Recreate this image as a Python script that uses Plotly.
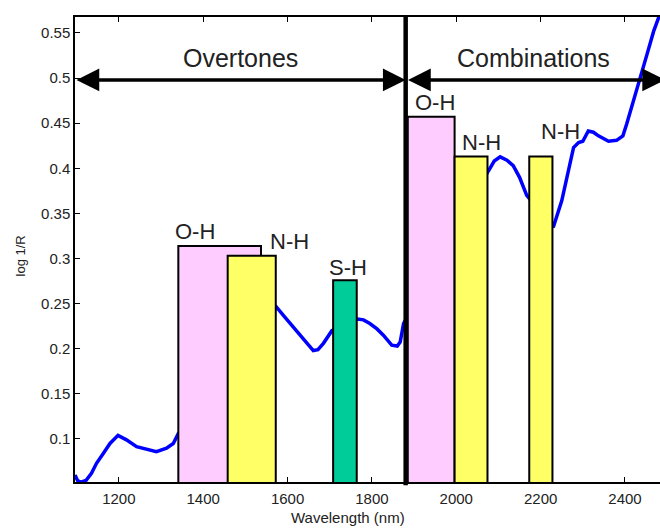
import plotly.graph_objects as go

# Spectrum (log 1/R vs wavelength) — visible portions
wavelength = [1096, 1102, 1110, 1122, 1135, 1147, 1163, 1179, 1198, 1218, 1242, 1266,
              1289, 1313, 1329, 1341,
              1574, 1590, 1613, 1640, 1661, 1672, 1685, 1705,
              1766, 1780, 1795, 1812, 1827, 1847, 1860, 1867, 1875,
              2076, 2090, 2104, 2120, 2135, 2150, 2167,
              2230, 2250, 2265, 2278, 2290, 2300, 2313, 2325, 2337, 2361, 2380, 2395,
              2404, 2420, 2436, 2452, 2468, 2479, 2490]
log_1_r = [0.060, 0.054, 0.052, 0.054, 0.062, 0.073, 0.084, 0.095, 0.104, 0.099, 0.0915, 0.0886,
           0.086, 0.0897, 0.095, 0.106,
           0.246, 0.237, 0.224, 0.210, 0.198, 0.199, 0.206, 0.220,
           0.233, 0.232, 0.228, 0.222, 0.215, 0.204, 0.203, 0.2075, 0.228,
           0.397, 0.408, 0.4127, 0.409, 0.403, 0.390, 0.370,
           0.3346, 0.364, 0.395, 0.423, 0.4285, 0.430, 0.4414, 0.440, 0.436, 0.430, 0.431, 0.436,
           0.449, 0.4746, 0.497, 0.526, 0.552, 0.566, 0.580]

# Absorption bands
band_labels = ["O-H", "N-H", "S-H", "O-H", "N-H", "N-H"]
band_start = [1341, 1458, 1708, 1885, 1996, 2173]
band_end = [1537, 1572, 1764, 1996, 2074, 2228]
band_top = [0.314, 0.303, 0.276, 0.457, 0.413, 0.413]

regions = ["Overtones", "Combinations"]
region_start = [1096, 1882]
region_end = [1880, 2495]
region_level = 0.498
boundary = 1880

x_ticks = [1200, 1400, 1600, 1800, 2000, 2200, 2400]
y_ticks = [0.1, 0.15, 0.2, 0.25, 0.3, 0.35, 0.4, 0.45, 0.5, 0.55]
y_tick_text = ["0.1", "0.15", "0.2", "0.25", "0.3", "0.35", "0.4", "0.45", "0.5", "0.55"]

# styles
band_colors = ["#FFCCFF", "#FFFF66", "#00CC99", "#FFCCFF", "#FFFF66", "#FFFF66"]
label_xshift = [-5, 40, -6, 5, 5, 10]
label_yshift = [0, 0, -2, 0, 0, 11]
FONT = "Liberation Sans, Arial, sans-serif"
TXT = "#222222"

fig = go.Figure()
fig.add_trace(go.Scatter(x=wavelength, y=log_1_r, mode="lines",
                         line=dict(color="#0000FF", width=3.5), showlegend=False,
                         hoverinfo="skip"))

for i in range(len(band_labels)):
    fig.add_shape(type="rect", xref="x", yref="y",
                  x0=band_start[i], x1=band_end[i], y0=0.0, y1=band_top[i],
                  fillcolor=band_colors[i], line=dict(color="black", width=2),
                  layer="above")
    fig.add_annotation(x=band_start[i], y=band_top[i], xref="x", yref="y",
                       text=band_labels[i], showarrow=False, xanchor="left",
                       yanchor="bottom", xshift=label_xshift[i], yshift=label_yshift[i],
                       font=dict(family=FONT, size=22, color=TXT))

fig.add_shape(type="line", xref="x", yref="paper", x0=boundary, x1=boundary,
              y0=-0.007, y1=1.0, line=dict(color="black", width=4.5), layer="above")

for i in range(len(regions)):
    fig.add_annotation(x=region_end[i], y=region_level, ax=region_start[i], ay=region_level,
                       xref="x", yref="y", axref="x", ayref="y", text="",
                       showarrow=True, arrowhead=2, arrowside="end+start",
                       arrowsize=1.3, arrowwidth=3.5, arrowcolor="black", standoff=0,
                       startstandoff=0)
    fig.add_annotation(x=(region_start[i] + min(region_end[i], 2483)) / 2, y=region_level,
                       xref="x", yref="y", text=regions[i], showarrow=False,
                       yanchor="bottom", yshift=6,
                       font=dict(family=FONT, size=25, color=TXT))

# axis titles
fig.add_annotation(x=0.466, y=-0.076, xref="paper", yref="paper", text="Wavelength (nm)",
                   showarrow=False, xanchor="center", yanchor="middle",
                   font=dict(family=FONT, size=15, color=TXT))
fig.add_annotation(x=-0.094, y=0.485, xref="paper", yref="paper", text="log 1/R",
                   showarrow=False, textangle=-90, xanchor="center", yanchor="middle",
                   font=dict(family=FONT, size=13, color=TXT))

fig.update_layout(
    width=660, height=529,
    margin=dict(l=75, r=0, t=17, b=47),
    paper_bgcolor="white", plot_bgcolor="white",
    font=dict(family=FONT, color=TXT),
    xaxis=dict(range=[1096, 2483], tickvals=x_ticks, ticks="inside", ticklen=5,
               tickcolor="black", showline=True, linecolor="black", linewidth=1.5,
               mirror="ticks", showgrid=False, zeroline=False, automargin=False,
               ticklabelstandoff=2,
               tickfont=dict(family=FONT, size=15, color=TXT)),
    yaxis=dict(range=[0.0523, 0.5677], tickvals=y_ticks, ticktext=y_tick_text,
               ticks="inside", ticklen=5, tickcolor="black", showline=True,
               linecolor="black", linewidth=1.5, mirror=False, showgrid=False,
               zeroline=False, automargin=False,
               tickfont=dict(family=FONT, size=15, color=TXT)),
)

fig.write_html("out.html", config={"displayModeBar": False},
               post_script="document.body.style.margin='0px';")
